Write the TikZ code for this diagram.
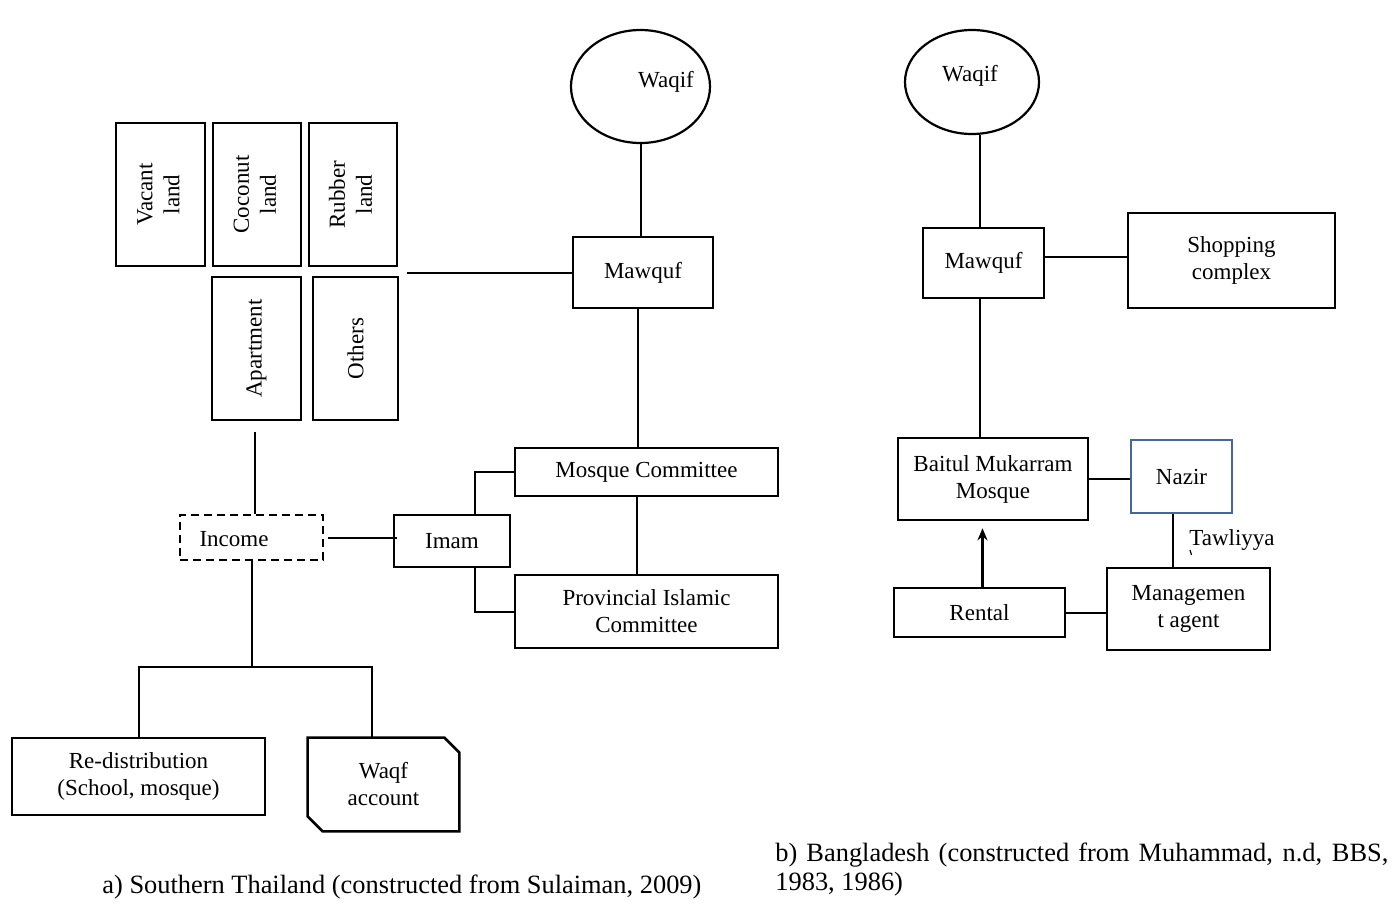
\documentclass[tikz,border=0pt]{standalone}
\usepackage{fontspec}
\setmainfont{Liberation Serif}
\usetikzlibrary{arrows.meta,shapes.geometric}
\definecolor{nazirblue}{RGB}{65,105,155}

\begin{document}
\begin{tikzpicture}[x=0.5pt,y=-0.5pt,
  every node/.style={font=\fontsize{11.5}{13.5}\selectfont, inner sep=0pt, align=center},
  sz/.style 2 args={minimum width=#1*0.5pt, minimum height=#2*0.5pt},
  box/.style={draw, line width=1.3pt, rectangle},
  oval/.style={draw, line width=1.1pt, ellipse},
  dashbox/.style={draw, line width=1.1pt, rectangle, dash pattern=on 4pt off 2.5pt},
  link/.style={line width=1pt},
  caption/.style={font=\fontsize{13.2}{14.5}\selectfont, align=left}]
\useasboundingbox (0,0) rectangle (1398,916);

% ---------- (a) Southern Thailand ----------
\node (waqifA) [oval, sz={139}{113}] at (640.5,86.5) {};
\node (waqifAtext) at (666,82) {Waqif};
\node (mawqufA) [box, sz={140}{71}] at (643,272.5) {Mawquf};

\node (vacant)  [box, sz={89}{143}] at (160.5,194.5) {\rotatebox{90}{\begin{tabular}{@{}c@{}}Vacant\\land\end{tabular}}};
\node (coconut) [box, sz={88}{143}] at (257,194.5)   {\rotatebox{90}{\begin{tabular}{@{}c@{}}Coconut\\land\end{tabular}}};
\node (rubber)  [box, sz={88}{143}] at (353,194.5)   {\rotatebox{90}{\begin{tabular}{@{}c@{}}Rubber\\land\end{tabular}}};
\node (apart)   [box, sz={89}{143}] at (256.5,348.5) {\rotatebox{90}{Apartment}};
\node (others)  [box, sz={85}{143}] at (355.5,348.5) {\rotatebox{90}{Others}};

\node (income) [dashbox, sz={143}{45}] at (251.5,537.5) {};
\node (incometext) at (234,539) {Income};
\node (imam) [box, sz={116}{52}] at (452,541) {Imam};
\node (mosqueC) [box, sz={263}{48}] at (646.5,472) {Mosque Committee};
\node (provC) [box, sz={263}{73}] at (646.5,611.5) {Provincial Islamic\\Committee};

\node (redist) [box, sz={253}{77}] at (138.5,776.5) {Re-distribution\\(School, mosque)};
\node (waqfacc) [sz={151}{93}] at (383.5,784.5) {Waqf\\account};
\draw[line width=1.3pt] (waqfacc.north west) -- ([xshift=-7.5pt]waqfacc.north east)
  -- ([yshift=-7.5pt]waqfacc.north east) -- (waqfacc.south east)
  -- ([xshift=7.5pt]waqfacc.south west) -- ([yshift=7.5pt]waqfacc.south west) -- cycle;

\coordinate (landend) at (407,272.5);
\coordinate (aptfoot) at (255,432);
\coordinate (split) at (251.5,667);

\draw[link] (waqifA.south) -- (waqifA.south |- mawqufA.north);
\draw[link] (mawqufA.west) -- (landend);
\draw[link] ([xshift=-2.5pt]mawqufA.south) -- ([xshift=-2.5pt]mawqufA.south |- mosqueC.north);
\draw[link] ([xshift=-4.75pt]mosqueC.south) -- ([xshift=-4.75pt]mosqueC.south |- provC.north);
\draw[link] ([xshift=11.5pt]imam.north) |- (mosqueC.west);
\draw[link] ([xshift=11.5pt]imam.south) |- (provC.west);
\draw[link] ([xshift=2pt]income.east) -- ([xshift=2pt]income.east -| imam.west);
\draw[link] (aptfoot) -- (aptfoot |- income.north);
\draw[link] (income.south) -- (split);
\draw[link] (redist.north) -- (redist.north |- split) -- ([xshift=-5.75pt]waqfacc.north |- split)
  -- ([xshift=-5.75pt]waqfacc.north);

% ---------- (b) Bangladesh ----------
\node (waqifB) [oval, sz={134}{104}] at (972,82) {};
\node (waqifBtext) at (970,76) {Waqif};
\node (mawqufB) [box, sz={121}{70}] at (983.5,263) {Mawquf};
\node (shop) [box, sz={207}{95}] at (1231.5,260.5) {Shopping\\complex};
\node (baitul) [box, sz={190}{82}] at (993,479) {Baitul Mukarram\\Mosque};
\node (nazir) [box, draw=nazirblue, line width=1.1pt, sz={101}{73}] at (1181.5,476.5) {Nazir};
\node (mgmt) [box, sz={163}{82}] at (1188.5,609) {Managemen\\t agent};
\node (rental) [box, sz={171}{49}] at (979.5,612.5) {Rental};

\draw[link] ([xshift=-2pt]mawqufB.north |- waqifB.south) -- ([xshift=-2pt]mawqufB.north);
\draw[link] ([yshift=3pt]mawqufB.east) -- ([yshift=3pt]mawqufB.east -| shop.west);
\draw[link] ([xshift=-2pt]mawqufB.south) -- ([xshift=-2pt]mawqufB.south |- baitul.north);
\draw[link] (baitul.east) -- (baitul.east -| nazir.west);
\draw[link] ([xshift=-4.25pt]nazir.south) -- ([xshift=-4.25pt]nazir.south |- mgmt.north);
\draw[link] (rental.east) -- (rental.east -| mgmt.west);
\draw[line width=1.1pt, -{Stealth[length=6pt,width=5pt]}, shorten >=3.5pt]
  ([xshift=1.5pt]rental.north) -- ([xshift=1.5pt]rental.north |- baitul.south);

% edge label, with the cut-off stroke of its wrapped second line
\node (tawliyya) [anchor=base west, align=left] at (1189,545) {Tawliyya};
\coordinate (tick) at (1190,550);
\draw[line width=0.6pt] (tick) -- ++(1.5,5);

% ---------- captions ----------
\node (capA) [caption, anchor=base west] at (102,893) {a) Southern Thailand (constructed from Sulaiman, 2009)};
\node (capB) [caption, anchor=base west] at (775,861) {\parbox[t]{306.5pt}{\makebox[306.5pt][s]{b) Bangladesh (constructed from Muhammad, n.d, BBS,}\\1983, 1986)}};
\end{tikzpicture}
\end{document}
